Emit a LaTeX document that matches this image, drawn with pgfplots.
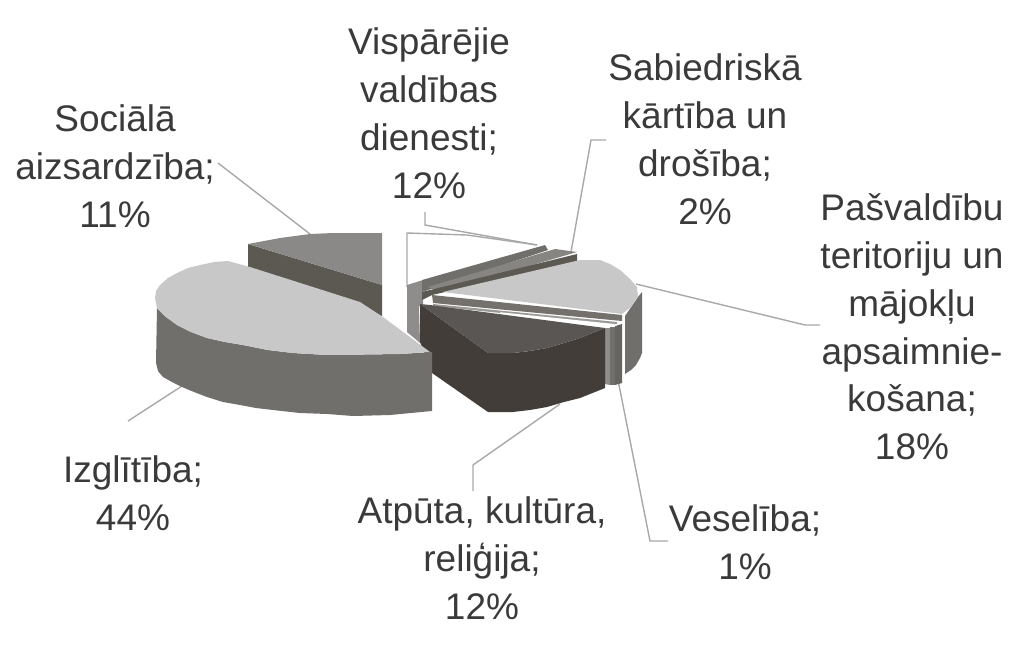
\documentclass[border=0pt]{standalone}
\usepackage{fontspec}
\setmainfont{Liberation Sans}
\usepackage{pgfplots}
\pgfplotsset{compat=1.18}
\definecolor{lbl}{HTML}{3A3A3A}
\definecolor{leader}{HTML}{A8A8A8}
\definecolor{toplight}{HTML}{C8C8C8}
\definecolor{sidemid}{HTML}{716F6B}
\definecolor{socitop}{HTML}{8A8987}
\definecolor{socidark}{HTML}{5C5852}
\definecolor{atptop}{HTML}{5A5653}
\definecolor{atpside}{HTML}{423D39}
\definecolor{vislight}{HTML}{8E8D8B}
\tikzset{lab/.style={align=center,text=lbl,font=\fontsize{37}{47.8}\selectfont,inner sep=0pt,anchor=center}}
\begin{document}
\begin{tikzpicture}
\begin{axis}[
  scale only axis, width=1024pt, height=659pt,
  xmin=0, xmax=1024, ymin=0, ymax=659, y dir=reverse,
  hide axis, clip=false,
]
% leader lines
\addplot[leader,line width=1.4pt] coordinates {(218,163)(310,234)};
\addplot[leader,line width=1.4pt] coordinates {(425,212)(425,225)(537,245)};
\addplot[leader,line width=1.4pt] coordinates {(407,287)(407,233)(467,235)(537,245)};
\addplot[leader,line width=1.4pt] coordinates {(606,140)(591,140)(571,252)};
\addplot[leader,line width=1.4pt] coordinates {(636,284)(805,325)(820,325)};
\addplot[leader,line width=1.4pt] coordinates {(618,380)(650,541)(668,541)};
\addplot[leader,line width=1.4pt] coordinates {(560,404)(473,465)(473,491)};
\addplot[leader,line width=1.4pt] coordinates {(182,386)(128,421)};
% Sociala aizsardziba
\addplot[fill=socidark,draw=none] coordinates {(248,244)(382,285)(382,316)(248,268)} -- cycle;
\addplot[fill=socitop,draw=none] coordinates {(248,244)(264,241)(280,238)(310,234)(333,233)(382,233)(382,285)} -- cycle;
% Vispareji valdibas dienesti
\addplot[fill=vislight,draw=none] coordinates {(407,285)(423,280)(423,306)(419,306)(420,343)(407,332)} -- cycle;
\addplot[fill=sidemid,draw=none] coordinates {(422,280)(545,245)(548,250)(422,292)} -- cycle;
% Sabiedriska kartiba
\addplot[fill=sidemid!85!white,draw=none] coordinates {(428,287)(555,249)(577,252)(440,292)} -- cycle;
\addplot[fill=socidark,draw=none] coordinates {(422,292)(577,254)(577,262)(432,295)(422,300)} -- cycle;
% Pasvaldibu teritoriju
\addplot[fill=sidemid,draw=none] coordinates {(625,316)(638,297)(642,292)(642,353)(640,358)(636,365)(631,370)(625,374)} -- cycle;
\addplot[fill=socidark!85!white,draw=none] coordinates {(432,295)(622,315)(622,321)(433,303)} -- cycle;
\addplot[fill=toplight,draw=none] coordinates {(443,292)(580,260)(600,260)(610,264)(620,270)(630,279)(637,287)(638,297)(631,307)(622,314)} -- cycle;
% Veseliba
\addplot[fill=vislight,draw=none] coordinates {(605,328)(610,328)(610,385)(605,384)} -- cycle;
\addplot[fill=sidemid,draw=none] coordinates {(610,327)(615,327)(615,385)(610,385)} -- cycle;
\addplot[fill=sidemid!90!black,draw=none] coordinates {(615,326)(622,324)(622,383)(615,385)} -- cycle;
\addplot[fill=sidemid!70!white,draw=none] coordinates {(433,304)(617,322)(617,325)(433,306)} -- cycle;
\addplot[white,line width=1.5pt] coordinates {(500,313)(617,325)};
% Atputa, kultura, religija
\addplot[fill=atpside,draw=none] coordinates {(420,304)(488,353)(513,353)(530,351)(547,348)(564,343)(580,338)(605,328)(605,388)(580,398)(564,402)(547,407)(530,410)(513,412)(488,412)(432,373)(420,342)} -- cycle;
\addplot[fill=atptop,draw=none] coordinates {(420,304)(430,305)(605,328)(580,338)(564,343)(547,348)(530,351)(513,353)(488,353)} -- cycle;
% Izglitiba
\addplot[fill=sidemid,draw=none] coordinates {(157,308)(166,317)(177,325)(191,332)(207,338)(225,342)(243,345)(268,350)(293,353)(327,355)(400,354)(432,352)(432,411)(390,415)(353,416)(327,414)(300,413)(273,410)(256,408)(240,405)(223,402)(207,397)(194,392)(182,387)(172,382)(163,377)(158,371)(156,363)} -- cycle;
\addplot[fill=toplight,draw=none] coordinates {(155,298)(156,291)(160,285)(168,278)(177,273)(188,268)(200,265)(214,262)(228,261)(250,267)(360,302)(383,317)(430,352)(400,354)(327,355)(293,353)(268,350)(243,345)(225,342)(207,338)(191,332)(177,325)(166,317)(157,308)} -- cycle;
% labels
\node[lab] at (axis cs:429,113) {Vispārējie\\valdības\\dienesti;\\12\%};
\node[lab] at (axis cs:705,139) {Sabiedriskā\\kārtība un\\drošība;\\2\%};
\node[lab] at (axis cs:912,327) {Pašvaldību\\teritoriju un\\mājokļu\\apsaimnie-\\košana;\\18\%};
\node[lab] at (axis cs:115,166) {Sociālā\\aizsardzība;\\11\%};
\node[lab] at (axis cs:133,493) {Izglītība;\\44\%};
\node[lab] at (axis cs:482,558) {Atpūta, kultūra,\\reliģija;\\12\%};
\node[lab] at (axis cs:745,542) {Veselība;\\1\%};
\end{axis}
\pgfresetboundingbox
\useasboundingbox (0,0) rectangle (1024pt,659pt);
\end{tikzpicture}
\end{document}
